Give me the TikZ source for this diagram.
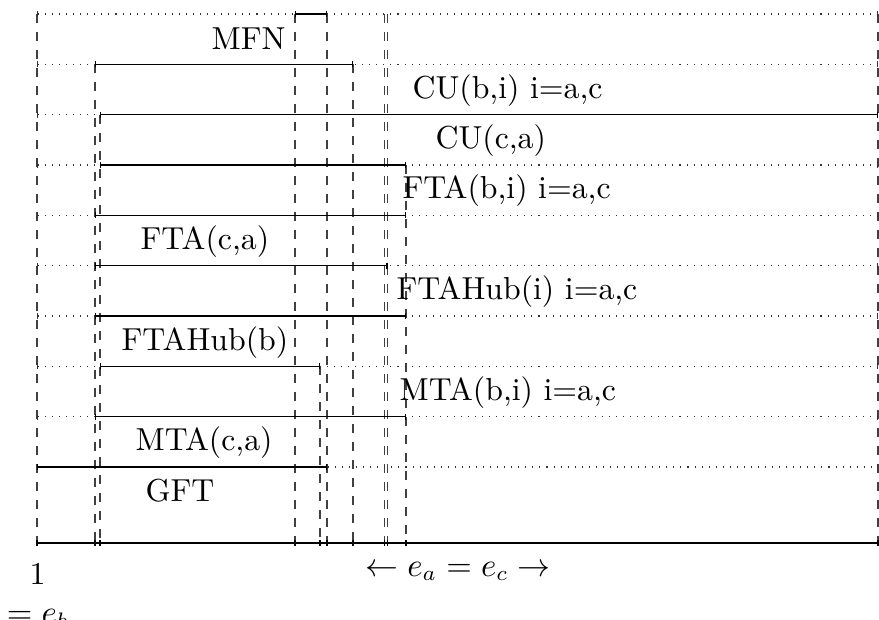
\documentclass[tikz,border=0pt]{standalone}
\usetikzlibrary{arrows.meta}
\begin{document}
\begin{tikzpicture}[x=0.33333pt,y=-0.33333pt,
  every node/.style={font=\fontsize{10.6}{12.5}\selectfont},
  rowline/.style={dotted, line width=0.35pt, black!80, {Bar[width=2pt,line width=0.4pt]}-{Bar[width=2pt,line width=0.4pt]}},
  interval/.style={line width=0.4pt, {Bar[width=2pt,line width=0.4pt]}-{Bar[width=2pt,line width=0.4pt]}},
  guide/.style={dashed, line width=0.4pt, black!75},
  axisline/.style={line width=0.8pt},
  axtick/.style={line width=0.4pt},
  lab/.style={anchor=base west, inner sep=0pt},
  btm/.style={anchor=base, inner sep=0pt}]
\useasboundingbox (0,0) rectangle (879,620);

% rows
\foreach \i/\y in {1/14,2/64.3,3/114.7,4/165,5/215.3,6/265.7,7/316,8/366.3,9/416.7,10/467}{
  \coordinate (L\i) at (37,\y);
  \coordinate (R\i) at (878,\y);
}
% vertical guides
\foreach \n/\x/\y in {1/37/14,2/95/64.3,3/100/114.7,4/295/14,5/320/366.3,6/327/14,7/353/64.3,8/384.5/14,9/387.5/14,10/406/165,11/878/14}{
  \coordinate (gT\n) at (\x,\y);
  \coordinate (gB\n) at (\x,543);
}
\foreach \n in {1,...,11}{
  \draw[guide] (gT\n) -- (gB\n);
}
% dotted row lines
\foreach \i in {1,...,9}{
  \draw[rowline] (L\i) -- (R\i);
}
\coordinate (G0) at (327,467);
\draw[rowline] (G0) -- (R10);

% intervals
\coordinate (a1) at (295,14);    \coordinate (b1) at (327,14);
\coordinate (a2) at (95,64.3);   \coordinate (b2) at (353,64.3);
\coordinate (a3) at (100,114.7); \coordinate (b3) at (878,114.7);
\coordinate (a4) at (100,165);   \coordinate (b4) at (406,165);
\coordinate (a5) at (95,215.3);  \coordinate (b5) at (406,215.3);
\coordinate (a6) at (95,265.7);  \coordinate (b6) at (387.5,265.7);
\coordinate (a7) at (95,316);    \coordinate (b7) at (406,316);
\coordinate (a8) at (100,366.3); \coordinate (b8) at (320,366.3);
\coordinate (a9) at (95,416.7);  \coordinate (b9) at (406,416.7);
\coordinate (a10) at (37,467);   \coordinate (b10) at (327,467);
\foreach \i in {1,...,10}{
  \draw[interval] (a\i) -- (b\i);
}

% axis
\draw[axisline] (gB1) -- (gB11);
\foreach \n in {1,...,11}{
  \draw[axtick] ([yshift=-1pt]gB\n) -- ([yshift=1pt]gB\n);
}

% labels
\node[anchor=base east, inner sep=0pt] (mfn) at (286,50) {MFN};
\node[lab] (cub) at (412,98.3) {CU(b,i) i=a,c};
\node[lab] (cuc) at (435,148.7) {CU(c,a)};
\node[lab] (ftab) at (402,199) {FTA(b,i) i=a,c};
\node[lab] (ftac) at (140,249.3) {FTA(c,a)};
\node[lab] (hubi) at (396,299.7) {FTAHub(i) i=a,c};
\node[lab] (hubb) at (121,350) {FTAHub(b)};
\node[lab] (mtab) at (399,400.3) {MTA(b,i) i=a,c};
\node[lab] (mtac) at (135,450.7) {MTA(c,a)};
\node[lab] (gft) at (145,501) {GFT};

\node[btm] (one) at (37.5,584) {1};
\node[btm] (eb) at (38,623) {$=e_b$};
\node[btm] (eaec) at (458,576) {$\leftarrow e_a = e_c \rightarrow$};
\node[rotate=90, anchor=north, inner sep=0pt, font=\scriptsize] (rlab) at (887,575) {$\frac{5}{3}$};
\end{tikzpicture}
\end{document}
